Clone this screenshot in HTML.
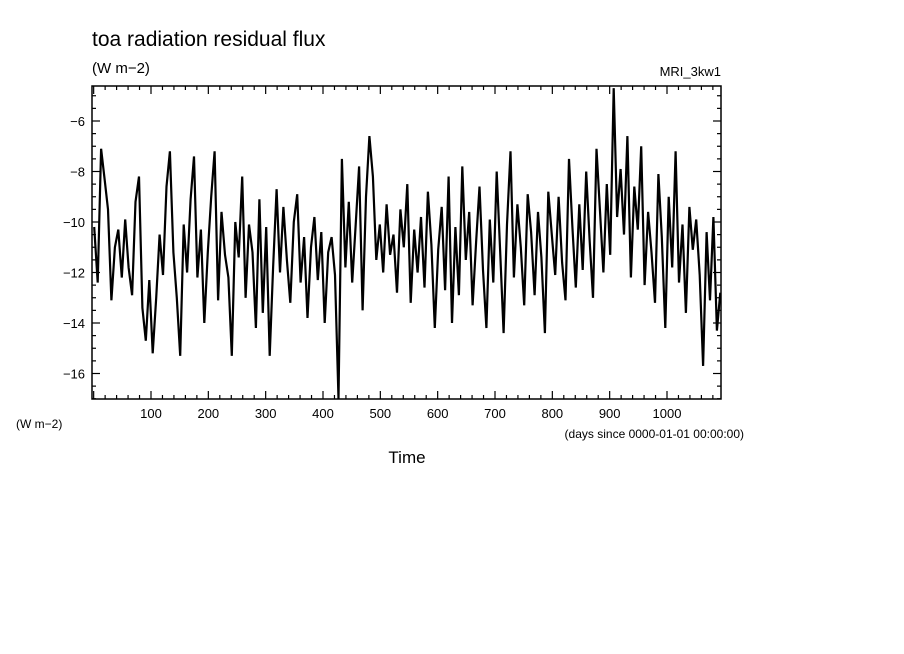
<!DOCTYPE html>
<html><head><meta charset="utf-8"><style>
body{margin:0;background:#fff;}
svg{display:block;font-family:"Liberation Sans",sans-serif;}
</style></head><body>
<svg width="904" height="654" viewBox="0 0 904 654">
<text x="92" y="46" font-size="21">toa radiation residual flux</text>
<text x="92" y="73" font-size="15">(W m−2)</text>
<text x="721" y="76" font-size="13" text-anchor="end">MRI_3kw1</text>
<text x="16" y="428" font-size="12">(W m−2)</text>
<text x="744" y="438" font-size="12" text-anchor="end">(days since 0000-01-01 00:00:00)</text>
<text x="407" y="463" font-size="17" text-anchor="middle">Time</text>
<g id="ticks"></g>
<path id="series" fill="none" stroke="#000" stroke-width="2.2" stroke-linejoin="miter"/>
<rect x="92" y="86" width="629" height="313" fill="none" stroke="#000" stroke-width="1.5"/>
</svg>
<script>
const yTicks=[-6,-8,-10,-12,-14,-16];
const xTicks=[100,200,300,400,500,600,700,800,900,1000];
const startDay=1;
const stepDays=6;
const values=[
-10.2,-12.4,-7.1,-8.3,-9.5,-13.1,-11.0,-10.3,-12.2,-9.9,-11.8,-12.9,-9.2,-8.2,-13.4,-14.7,
-12.3,-15.2,-13.0,-10.5,-12.1,-8.6,-7.2,-11.2,-13.0,-15.3,-10.1,-12.0,-9.1,-7.4,-12.2,-10.3,
-14.0,-11.2,-9.0,-7.2,-13.1,-9.6,-11.3,-12.2,-15.3,-10.0,-11.4,-8.2,-13.0,-10.1,-11.2,-14.2,
-9.1,-13.6,-10.2,-15.3,-11.8,-8.7,-12.0,-9.4,-11.5,-13.2,-10.0,-8.9,-12.4,-10.6,-13.8,-11.0,
-9.8,-12.3,-10.4,-14.0,-11.2,-10.6,-12.1,-17.0,-7.5,-11.8,-9.2,-12.4,-10.1,-7.8,-13.5,-9.0,
-6.6,-8.2,-11.5,-10.1,-12.0,-9.3,-11.3,-10.5,-12.8,-9.5,-11.0,-8.5,-13.2,-10.3,-12.0,-9.8,
-12.6,-8.8,-10.9,-14.2,-11.1,-9.4,-12.7,-8.2,-14.0,-10.2,-12.9,-7.8,-11.5,-9.6,-13.3,-10.8,
-8.6,-11.9,-14.2,-9.9,-12.4,-8.0,-11.2,-14.4,-10.1,-7.2,-12.2,-9.3,-11.0,-13.3,-8.9,-10.4,
-12.9,-9.6,-11.4,-14.4,-8.8,-10.5,-12.1,-9.0,-11.6,-13.1,-7.5,-10.2,-12.6,-9.3,-11.9,-8.0,
-10.7,-13.0,-7.1,-9.5,-12.0,-8.5,-11.3,-4.7,-9.8,-7.9,-10.5,-6.6,-12.2,-8.6,-10.3,-7.0,
-12.5,-9.6,-11.2,-13.2,-8.1,-10.6,-14.2,-9.0,-11.8,-7.2,-12.4,-10.1,-13.6,-9.4,-11.1,-9.9,
-12.1,-15.7,-10.4,-13.1,-9.8,-14.3,-12.8];
const X0=92,X1=721,Y0=86,Y1=399;
function xs(d){return 151+(d-100)*(516/900);}
function ys(v){return 222+(v+10)*(-101/4);}
const NS='http://www.w3.org/2000/svg';
const g=document.getElementById('ticks');
function line(x1,y1,x2,y2,name){const l=document.createElementNS(NS,'line');
l.setAttribute('x1',x1);l.setAttribute('y1',y1);l.setAttribute('x2',x2);l.setAttribute('y2',y2);
l.setAttribute('stroke','#000');l.setAttribute('stroke-width','1.2');


g.appendChild(l);}
function text(x,y,s,anchor,name){const t=document.createElementNS(NS,'text');
t.setAttribute('x',x);t.setAttribute('y',y);t.setAttribute('font-size','13');t.setAttribute('text-anchor',anchor);
t.textContent=s;


g.appendChild(t);}
for(let v=-17;v<=-4.5;v+=0.5){const y=ys(v);if(y<Y0||y>Y1)continue;
 const major=Math.abs(v%2)===0;const len=major?8:4;
 line(X0,y,X0+len,y,'y-tick');line(X1,y,X1-len,y,'y-tick');}
for(let d=0;d<=1095;d+=20){const x=xs(d);if(x<X0||x>X1)continue;
 const major=d%100===0;const len=major?8:4;
 line(x,Y1,x,Y1-len,'x-tick');line(x,Y0,x,Y0+len,'x-tick');}
yTicks.forEach(v=>text(85,ys(v)+5,String(v).replace('-','−'),'end','y-tick-label'));
xTicks.forEach(d=>text(xs(d),418,String(d),'middle','x-tick-label'));
let p='';values.forEach((v,i)=>{const x=xs(startDay+i*stepDays),y=Math.max(Y0,Math.min(Y1,ys(v)));p+=(i?'L':'M')+x.toFixed(1)+','+y.toFixed(1);});
document.getElementById('series').setAttribute('d',p);
</script>
</body></html>
